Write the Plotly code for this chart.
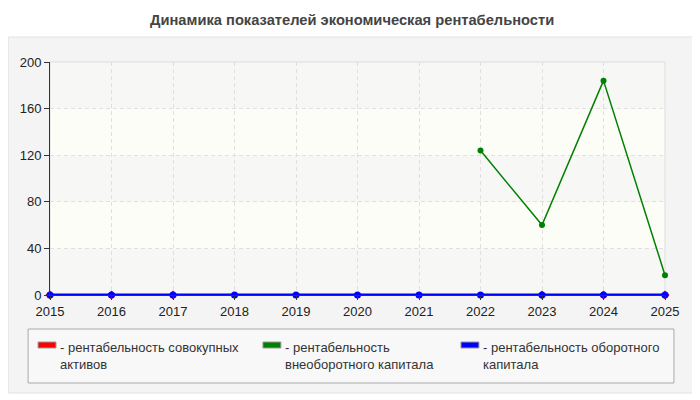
import plotly.graph_objects as go

years = [2015, 2016, 2017, 2018, 2019, 2020, 2021, 2022, 2023, 2024, 2025]
total_assets = [0, 0, 0, -2.5, -2.5, -2.5, -2.5, -2.5, 0, 0, 0]
noncurrent = [None, None, None, None, None, None, None, 124, 60, 184, 17]
current = [0, 0, 0, 0, 0, 0, 0, 0, 0, 0, 0]
y_ticks = [0, 40, 80, 120, 160, 200]
names = ["рентабельность совокупных<br>активов",
         "рентабельность<br>внеоборотного капитала",
         "рентабельность оборотного<br>капитала"]
colors = ["#ff0000", "#008000", "#0000ff"]

# plot area in screen pixels (page has an 8px body margin)
OFF = 8
L, R, T, B = 47, 665, 62, 295
W, H = R - L, B - T


def px_x(p):
    return (p - L) / W


def px_y(p):
    return (B - p) / H


fig = go.Figure()
fig.add_trace(go.Scatter(x=years, y=total_assets, mode="lines+markers",
                         line=dict(color=colors[0], width=2),
                         marker=dict(symbol="diamond", size=7, color=colors[0]),
                         showlegend=False, cliponaxis=False))
fig.add_trace(go.Scatter(x=years, y=noncurrent, mode="lines+markers",
                         line=dict(color=colors[1], width=1.5),
                         marker=dict(size=6, color=colors[1]),
                         showlegend=False, cliponaxis=False))
fig.add_trace(go.Scatter(x=years, y=current, mode="lines+markers",
                         line=dict(color=colors[2], width=3),
                         marker=dict(size=7, color=colors[2]),
                         showlegend=False, cliponaxis=False))

shapes = []
# outer panel
shapes.append(dict(type="rect", xref="paper", yref="paper", layer="below",
                   x0=px_x(5), x1=px_x(695), y0=px_y(393), y1=px_y(37),
                   fillcolor="#f4f4f4", line=dict(color="#e2e2e2", width=1)))
# bands
for i in range(5):
    shapes.append(dict(type="rect", xref="paper", yref="y", layer="below",
                       x0=0, x1=1, y0=y_ticks[i], y1=y_ticks[i + 1],
                       fillcolor="#f7f7f6" if i % 2 == 0 else "#fdfdf8",
                       line=dict(width=0)))
# plot border
shapes.append(dict(type="rect", xref="paper", yref="paper", layer="below",
                   x0=0, x1=1, y0=0, y1=1, line=dict(color="#dddddd", width=1)))
# legend box
shapes.append(dict(type="rect", xref="paper", yref="paper", layer="below",
                   x0=px_x(25), x1=px_x(674), y0=px_y(383), y1=px_y(329),
                   fillcolor="#f8f8f8", line=dict(color="#aaaaaa", width=1)))

annotations = [dict(text="<b>Динамика показателей экономическая рентабельности</b>",
                    xref="paper", yref="paper", x=px_x(350), y=px_y(20),
                    xanchor="center", yanchor="middle",
                    showarrow=False, font=dict(size=14.7, color="#444444"))]
legend_x = [35, 261, 460]
for name, c, lx in zip(names, colors, legend_x):
    shapes.append(dict(type="rect", xref="paper", yref="paper",
                       x0=px_x(lx), x1=px_x(lx + 18), y0=px_y(348), y1=px_y(342),
                       fillcolor=c, line=dict(color="#999999", width=1)))
    annotations.append(dict(text="- " + name, xref="paper", yref="paper",
                            x=px_x(lx + 20), y=px_y(338), xanchor="left", yanchor="top",
                            align="left", showarrow=False,
                            font=dict(size=13, color="#333333")))

fig.update_layout(
    width=700, height=400,
    margin=dict(l=L - OFF, r=700 - (R - OFF), t=T - OFF, b=400 - (B - OFF)),
    paper_bgcolor="white", plot_bgcolor="rgba(0,0,0,0)",
    font=dict(family="Liberation Sans, Arial", size=13, color="#222222"),
    shapes=shapes, annotations=annotations,
)
fig.update_xaxes(range=[2015, 2025], tickvals=years, showgrid=True,
                 gridcolor="#e0e0e0", griddash="4px,3px", ticks="outside",
                 ticklen=4, tickcolor="#333333", showline=True, linecolor="#333333",
                 zeroline=False, tickfont=dict(size=13))
fig.update_yaxes(range=[0, 200], tickvals=y_ticks, showgrid=True,
                 gridcolor="#e0e0e0", griddash="4px,3px", ticks="outside",
                 ticklen=5, tickcolor="#333333", showline=True, linecolor="#333333",
                 zeroline=False, tickfont=dict(size=13))

fig.write_html("out.html")
